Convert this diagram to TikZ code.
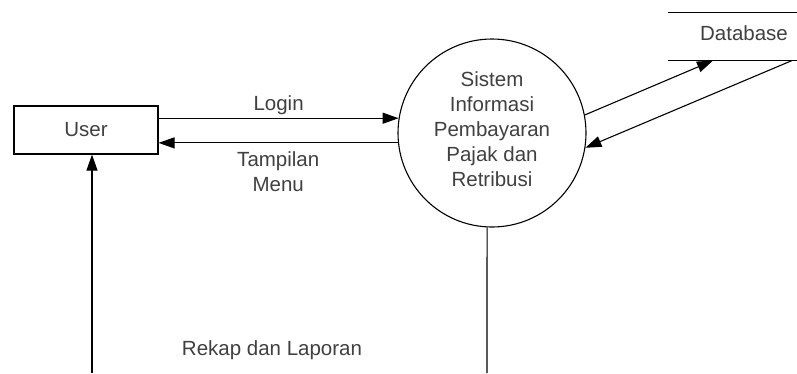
\documentclass[tikz,border=0pt]{standalone}
\usepackage{fontspec}
\setmainfont{Liberation Sans}
\usetikzlibrary{arrows.meta}

\begin{document}
\begin{tikzpicture}[x=1pt,y=-1pt,line width=1.1pt,
    font=\fontsize{20.5}{25}\selectfont,
    flow/.style={-{Triangle[length=16pt,width=11pt]}},
    lbl/.style={text=black!75,align=center}]
\useasboundingbox (0,0) rectangle (797,373);
\node[draw,minimum width=144pt,minimum height=48pt,lbl] (user) at (86,130) {User};
\node[draw,circle,minimum size=188pt,inner sep=0pt] (sis) at (492,133) {};
\node[lbl] (sistxt) at ([yshift=4pt]sis.center) {Sistem\\Informasi\\Pembayaran\\Pajak dan\\Retribusi};
\node[minimum width=150pt,minimum height=47pt] (db) at (744,36.5) {};
\node[lbl] (dbtxt) at ([yshift=3.5pt]db.center) {Database};
\draw (db.north west)--(db.north east);
\draw (db.south west)--(db.south east);
\draw[flow](user.east |- sis.171)--(sis.171)node[midway,above,lbl]{Login};
\draw[flow](sis.186)--(user.east |- sis.186)node[midway,below,yshift=-5pt,lbl]{Tampilan\\Menu};
\draw[flow](sis.11)--([xshift=-31pt]db.south);
\draw[flow]([xshift=48pt]db.south)--(sis.351);
\coordinate (sb) at (487,373);
\coordinate (ub) at (92,373);
\draw (sis.267)--(sb);
\draw[flow] (ub)--([xshift=6pt]user.south);
\node[lbl] (rekap) at (272,350) {Rekap dan Laporan};
\end{tikzpicture}
\end{document}
